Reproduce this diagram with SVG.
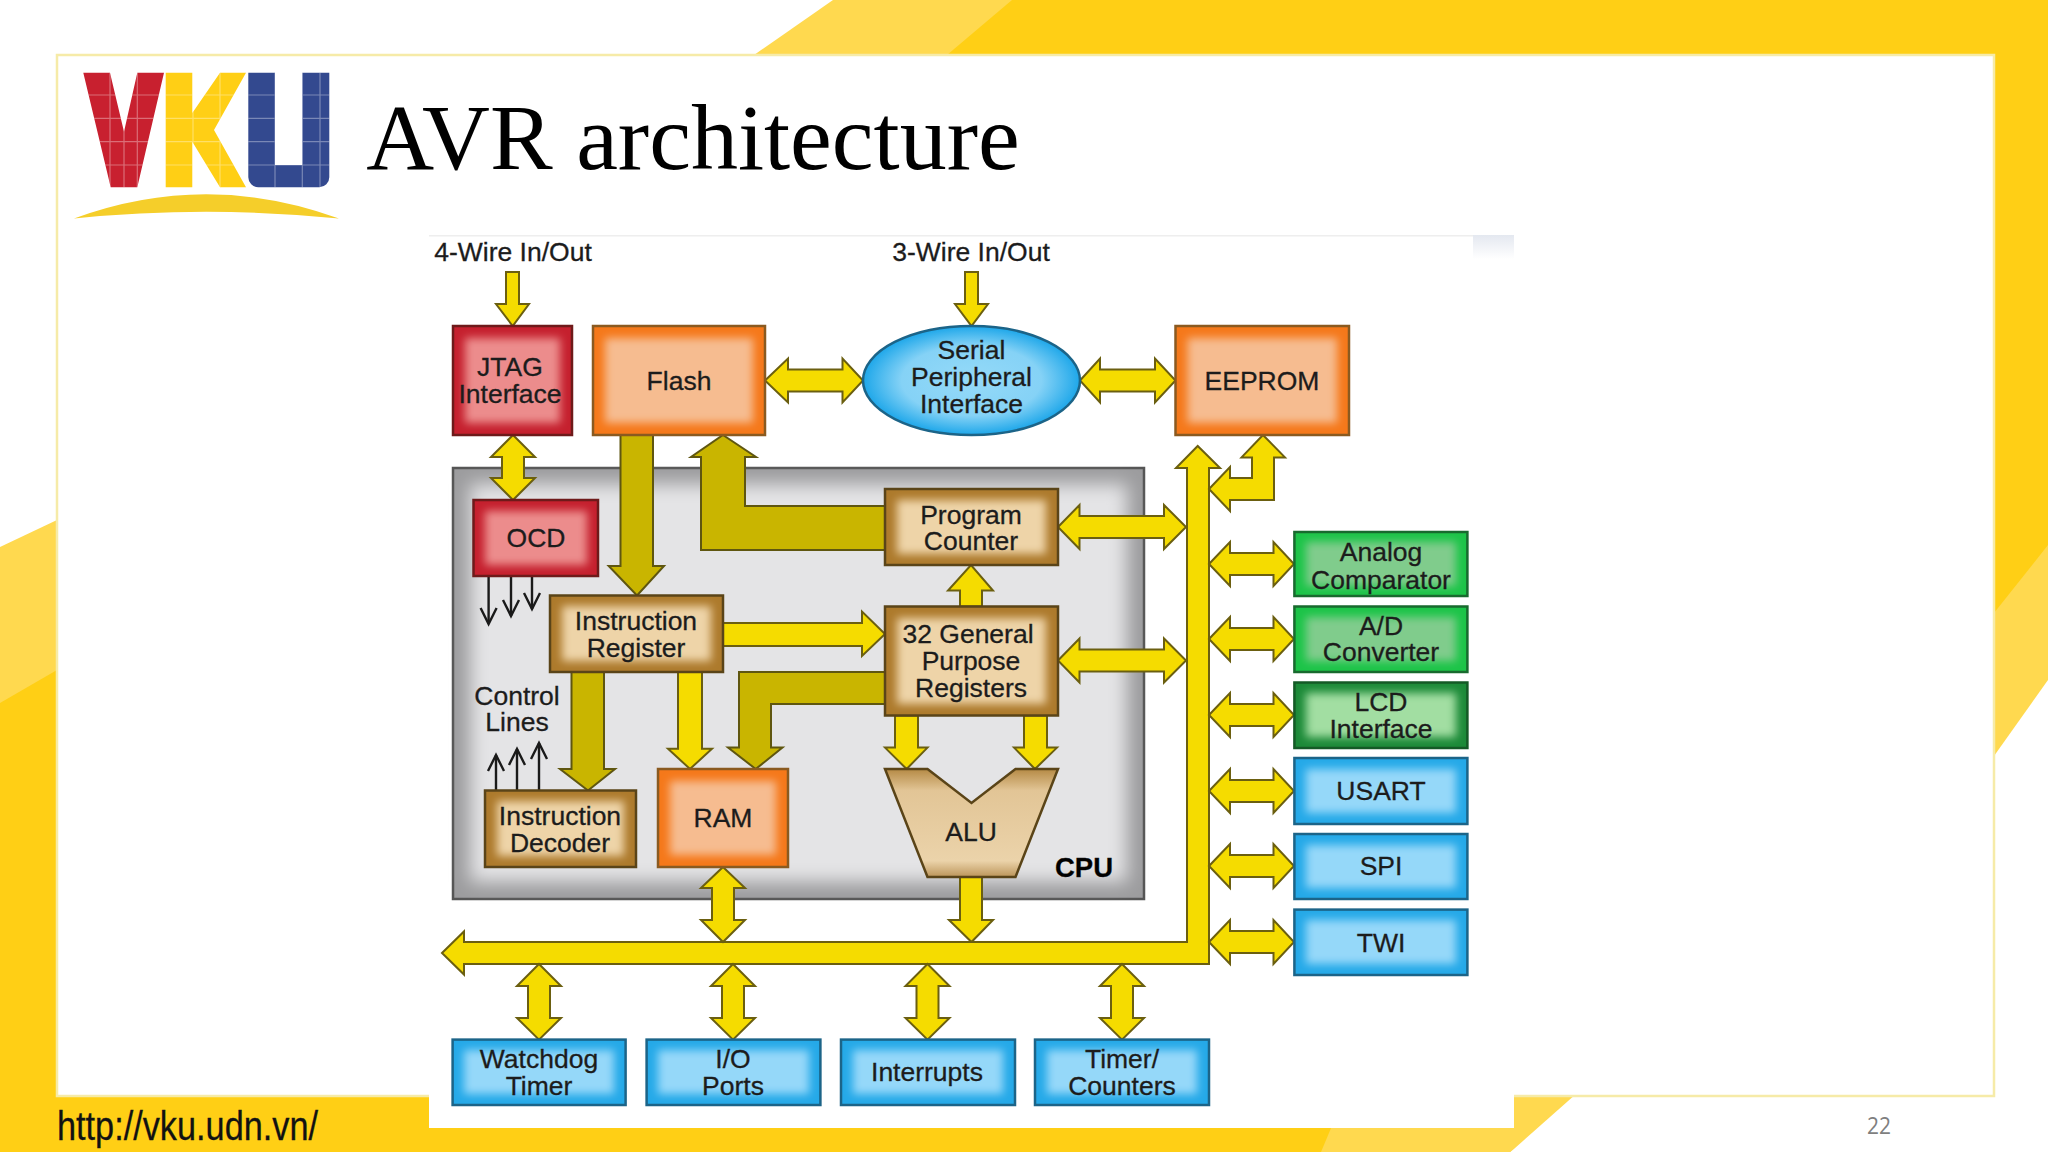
<svg xmlns="http://www.w3.org/2000/svg" xmlns:xlink="http://www.w3.org/1999/xlink" width="2048" height="1152" viewBox="0 0 2048 1152">
<style>
text{font-family:"Liberation Sans",Arial,sans-serif;font-size:26.5px;fill:#1c1c1c;stroke:#1c1c1c;stroke-width:.3;text-anchor:middle}
.y{fill:#F5DC00;stroke:#6b5f10;stroke-width:2;stroke-linejoin:miter}
.d{fill:#C9B500;stroke:#5f5610;stroke-width:2}
.in{filter:url(#b)}
.ctl{fill:none;stroke:#1a1a1a;stroke-width:2.4;marker-end:url(#open)}
.red{fill:#C5202E;stroke:#6e1a1a;stroke-width:2.5}.redi{fill:#EC8C8C}
.org{fill:#F5781A;stroke:#8a5a20;stroke-width:2.5}.orgi{fill:#F6BC90}
.tan{fill:#AD7A2C;stroke:#5a4418;stroke-width:2.5}.tani{fill:#EED4A8}
.blu{fill:#25A9E8;stroke:#1c6488;stroke-width:2.5}.blui{fill:#95D8F9}
.grn{fill:#1CC448;stroke:#186a2e;stroke-width:2.5}.grni{fill:#80CC8C}
.dgr{fill:#1C8A38;stroke:#145a26;stroke-width:2.5}.dgri{fill:#A2DEA2}
</style>
<defs>
<filter id="b" x="-25%" y="-25%" width="150%" height="150%"><feGaussianBlur stdDeviation="4.5"/></filter>
<filter id="b2" x="-15%" y="-15%" width="130%" height="130%"><feGaussianBlur stdDeviation="9"/></filter>
<radialGradient id="sp" cx="50%" cy="50%" r="52%"><stop offset="0" stop-color="#95DAF8"/><stop offset=".62" stop-color="#85D2F6"/><stop offset="1" stop-color="#12A2E8"/></radialGradient>
<linearGradient id="al" x1="0" y1="0" x2="0" y2="1"><stop offset="0" stop-color="#B58A45"/><stop offset=".2" stop-color="#E2C596"/><stop offset=".85" stop-color="#EBD3AA"/><stop offset="1" stop-color="#BC955A"/></linearGradient>
<linearGradient id="patch" x1="0" y1="0" x2="0" y2="1"><stop offset="0" stop-color="#E4E8F0"/><stop offset="1" stop-color="#FFFFFF"/></linearGradient>
<marker id="open" markerUnits="userSpaceOnUse" markerWidth="20" markerHeight="20" refX="9" refY="1.5" orient="auto-start-reverse" viewBox="-1 -10 20 20" overflow="visible"><path d="M-7 -8 L9 0 L-7 8" fill="none" stroke="#1a1a1a" stroke-width="2.4" transform="translate(0 1.5)"/></marker>
<polygon id="dv" class="y" points="0,0 22,22 11,22 11,54 22,54 0,75.6 -22,54 -11,54 -11,22 -22,22"/>
<polygon id="dh" class="y" points="0,0 21,-22 21,-11 64.5,-11 64.5,-22 85,0 64.5,22 64.5,11 21,11 21,22"/>
<polygon id="dh2" class="y" points="0,0 21.5,-22 21.5,-11 106,-11 106,-22 128,0 106,22 106,11 21.5,11 21.5,22"/>
<clipPath id="lg"><polygon points="83.3,72.7 110,72.7 124,131.7 137.3,72.7 164,72.7 137.3,187.3 110.7,187.3"/><polygon points="165.7,72.7 192.3,72.7 192.3,113 220,72.7 246,72.7 214,130 246,187.3 220,187.3 192.3,141.7 192.3,187.3 165.7,187.3"/><path d="M248.3 72.7H275V165H302.3V72.7H329.3V177.3a10 10 0 0 1-10 10H258.3a10 10 0 0 1-10-10Z"/></clipPath>
</defs>

<g id="background">
<rect width="2048" height="1152" fill="#FFFFFF"/>
<polygon points="754,55 833,0 2048,0 2048,100 754,100" fill="#FFD94F"/>
<polygon points="947,55 1012,0 2048,0 2048,100 947,100" fill="#FFCF15"/>
<polygon points="1994,40 2048,40 2048,717 1994,756" fill="#FFCF15"/>
<polygon points="1994,613 2048,545 2048,717 1994,790" fill="#FFD94F"/>
<polygon points="1994,756 2048,680 2048,800 1994,800" fill="#FFFFFF"/>
<polygon points="0,547 57,520 57,1100 0,1100" fill="#FFD94F"/>
<polygon points="0,703 57,670 57,1100 0,1100" fill="#FFCF15"/>
<rect x="0" y="1090" width="1400" height="62" fill="#FFCF15"/>
<polygon points="1347,1090 1600,1090 1510.6,1152 1321,1152" fill="#FFD94F"/>
<rect x="1573" y="1097" width="475" height="55" fill="#FFFFFF"/>
<polygon points="1572.6,1097 1700,1097 1700,1152 1510.6,1152" fill="#FFFFFF"/>
<rect x="57" y="55" width="1937" height="1041" fill="#FFFFFF" stroke="#F6EBA8" stroke-width="2.5"/>
<rect x="429" y="235" width="1085" height="893" fill="#FFFFFF"/>
<rect x="429" y="235" width="1085" height="1.5" fill="#EEEEEE"/>
<rect x="1473" y="235" width="41" height="24" fill="url(#patch)"/>
</g>

<g id="logo">
<polygon fill="#C8202F" points="83.3,72.7 110,72.7 124,131.7 137.3,72.7 164,72.7 137.3,187.3 110.7,187.3"/>
<polygon fill="#FFCF15" points="165.7,72.7 192.3,72.7 192.3,113 220,72.7 246,72.7 214,130 246,187.3 220,187.3 192.3,141.7 192.3,187.3 165.7,187.3"/>
<path fill="#33498F" d="M248.3 72.7H275V165H302.3V72.7H329.3V177.3a10 10 0 0 1-10 10H258.3a10 10 0 0 1-10-10Z"/>
<g clip-path="url(#lg)" stroke="#FFFFFF" stroke-opacity=".35" stroke-width="1.2">
<path d="M80 95H332M80 118.3H332M80 141.7H332M80 165H332M110 72V188M124 72V188M137.3 72V188M193 72V188M220 72V188M275 72V188M302.3 72V188M320 72V188"/>
</g>
<path fill="#F5CE2A" d="M74 218.5Q206 170 339 218.5Q206 205 74 218.5Z"/>
</g>

<text id="title" x="693" y="169" style="font-family:'Liberation Serif','Times New Roman',serif;font-size:94px;fill:#000;stroke:none">AVR architecture</text>
<text id="url" x="57" y="1140" textLength="261" lengthAdjust="spacingAndGlyphs" style="font-size:40px;text-anchor:start;fill:#111">http://vku.udn.vn/</text>
<text id="page" x="1879" y="1134" textLength="24" lengthAdjust="spacingAndGlyphs" style="font-family:'Open Sans',sans-serif;font-size:24px;fill:#7f7f7f;stroke:none">22</text>

<g id="cpu">
<rect x="453" y="468" width="691" height="431" fill="#9C9C9E" stroke="#555555" stroke-width="2.5"/>
<rect x="470" y="484" width="657" height="398" fill="#E4E4E6" filter="url(#b2)"/>
<text x="1084" y="876.5" style="font-weight:bold;fill:#000;font-size:27.5px">CPU</text>
</g>

<text id="label-4wire" x="513" y="261">4-Wire In/Out</text>
<text id="label-3wire" x="971" y="261">3-Wire In/Out</text>
<text id="label-control-1" x="517" y="704.6">Control</text>
<text id="label-control-2" x="517" y="731">Lines</text>

<g id="connectors">
<polygon class="d" points="620.5,430 653,430 653,566 664,566 637,595.5 608.7,566 620.5,566"/>
<polygon class="d" points="723,435 756,457 745,457 745,506 885,506 885,550 701,550 701,457 691,457"/>
<polygon class="d" points="571.5,672 604,672 604,769 615,769 588,790.5 560,769 571.5,769"/>
<polygon class="d" points="885,672 885,704 771,704 771,747.6 782.5,747.6 755.7,769 728,747.6 739,747.6 739,672"/>
<polygon class="y" points="506,272 519,272 519,304 529,304 512.7,326 496,304 506,304"/>
<polygon class="y" points="965,272 978,272 978,304 988,304 971.5,326 955,304 965,304"/>
<polygon class="y" points="765,380.5 788,358.5 788,369.5 842.5,369.5 842.5,358.5 863,380.5 842.5,402.5 842.5,391.5 788,391.5 788,402.5"/>
<polygon class="y" points="1080,380.5 1100,358.5 1100,369.5 1155,369.5 1155,358.5 1175.5,380.5 1155,402.5 1155,391.5 1100,391.5 1100,402.5"/>
<polygon class="y" points="513,435 535,457 524,457 524,478 535,478 513,500 491,478 502,478 502,457 491,457"/>
<polygon class="y" points="960,606.5 960,590.5 948,590.5 971,565 993,590.5 982,590.5 982,606.5"/>
<polygon class="y" points="723,623 862,623 862,611.6 885,634 862,656 862,646 723,646"/>
<polygon class="y" points="678,672 702,672 702,748.7 712,748.7 690,769 668,748.7 678,748.7"/>
<polygon class="y" points="895,715.6 918,715.6 918,747.6 927.5,747.6 906.6,769 885,747.6 895,747.6"/>
<polygon class="y" points="1024,715.6 1047,715.6 1047,747.6 1057,747.6 1035,769 1014,747.6 1024,747.6"/>
<polygon class="y" points="960,877 982,877 982,920 993,920 971.5,942 949,920 960,920"/>
<polygon class="y" points="442,953 464,931.5 464,942 1187,942 1187,468 1176,468 1197.7,446 1220,468 1209,468 1209,964 464,964 464,974.5"/>
<polygon class="y" points="723,867 745,888 734,888 734,920 745,920 723,942 701,920 712,920 712,888 701,888"/>
<polygon class="y" points="1263,435 1285,457.4 1274,457.4 1274,500 1230,500 1230,511 1209,489 1230,467 1230,478 1252,478 1252,457.4 1241.5,457.4"/>
<use href="#dv" xlink:href="#dv" x="539" y="964"/>
<use href="#dv" xlink:href="#dv" x="733" y="964"/>
<use href="#dv" xlink:href="#dv" x="927.5" y="964"/>
<use href="#dv" xlink:href="#dv" x="1122" y="964"/>
<use href="#dh" xlink:href="#dh" x="1209" y="564"/>
<use href="#dh" xlink:href="#dh" x="1209" y="639"/>
<use href="#dh" xlink:href="#dh" x="1209" y="715"/>
<use href="#dh" xlink:href="#dh" x="1209" y="791"/>
<use href="#dh" xlink:href="#dh" x="1209" y="866"/>
<use href="#dh" xlink:href="#dh" x="1209" y="942"/>
<use href="#dh2" xlink:href="#dh2" x="1058" y="527"/>
<use href="#dh2" xlink:href="#dh2" x="1058" y="660.5"/>
<path class="ctl" d="M488.6 577V624"/>
<path class="ctl" d="M511 577V616"/>
<path class="ctl" d="M532 577V609"/>
<path class="ctl" d="M496 790V755"/>
<path class="ctl" d="M517 790V749"/>
<path class="ctl" d="M539 790V743"/>
</g>

<g id="node-jtag"><rect class="red" x="453" y="326" width="119" height="109"/><rect class="redi in" x="465" y="338" width="95" height="85"/><text x="510" y="375.5">JTAG</text><text x="510" y="403.4">Interface</text></g>
<g id="node-flash"><rect class="org" x="593" y="326" width="172" height="109"/><rect class="orgi in" x="605" y="338" width="148" height="85"/><text x="679" y="390">Flash</text></g>
<g id="node-spi-bus"><ellipse cx="971.5" cy="380.5" rx="108.5" ry="54.5" fill="url(#sp)" stroke="#1c6488" stroke-width="2.5"/><text x="971.5" y="358.5">Serial</text><text x="971.5" y="385.5">Peripheral</text><text x="971.5" y="412.5">Interface</text></g>
<g id="node-eeprom"><rect class="org" x="1175.5" y="326" width="173.5" height="109"/><rect class="orgi in" x="1187.5" y="338" width="149.5" height="85"/><text x="1262" y="390">EEPROM</text></g>
<g id="node-ocd"><rect class="red" x="473.5" y="500" width="124.5" height="76"/><rect class="redi in" x="485" y="511" width="102" height="54"/><text x="536" y="547">OCD</text></g>
<g id="node-pc"><rect class="tan" x="885" y="489" width="173" height="76"/><rect class="tani in" x="897" y="500" width="149" height="54"/><text x="971" y="523.5">Program</text><text x="971" y="550">Counter</text></g>
<g id="node-ir"><rect class="tan" x="550" y="595.5" width="173" height="76.5"/><rect class="tani in" x="562" y="606" width="149" height="55"/><text x="636" y="630">Instruction</text><text x="636" y="657">Register</text></g>
<g id="node-gpr"><rect class="tan" x="885" y="606.5" width="173" height="109"/><rect class="tani in" x="897" y="618" width="149" height="86"/><text x="968" y="643">32 General</text><text x="971" y="670">Purpose</text><text x="971" y="696.5">Registers</text></g>
<g id="node-decoder"><rect class="tan" x="485" y="790.5" width="151" height="76.5"/><rect class="tani in" x="497" y="801" width="127" height="55"/><text x="560" y="825">Instruction</text><text x="560" y="851.5">Decoder</text></g>
<g id="node-ram"><rect class="org" x="658" y="769" width="130" height="98"/><rect class="orgi in" x="670" y="781" width="106" height="74"/><text x="723" y="827">RAM</text></g>
<g id="node-alu"><polygon points="885,769 927.5,769 971.5,803 1015.5,769 1058,769 1015.5,877 927.5,877" fill="url(#al)" stroke="#5a4418" stroke-width="2.5"/><text x="971" y="840.5">ALU</text></g>
<g id="node-watchdog"><rect class="blu" x="452.6" y="1039.6" width="173" height="65.4"/><rect class="blui in" x="464" y="1050" width="150" height="44"/><text x="539" y="1068">Watchdog</text><text x="539" y="1095">Timer</text></g>
<g id="node-io"><rect class="blu" x="646.6" y="1039.6" width="173.8" height="65.4"/><rect class="blui in" x="658" y="1050" width="151" height="44"/><text x="733" y="1068">I/O</text><text x="733" y="1095">Ports</text></g>
<g id="node-interrupts"><rect class="blu" x="841" y="1039.6" width="174" height="65.4"/><rect class="blui in" x="853" y="1050" width="150" height="44"/><text x="927" y="1081">Interrupts</text></g>
<g id="node-timer"><rect class="blu" x="1035" y="1039.6" width="174" height="65.4"/><rect class="blui in" x="1047" y="1050" width="150" height="44"/><text x="1122" y="1068">Timer/</text><text x="1122" y="1095">Counters</text></g>
<g id="node-analog"><rect class="grn" x="1294.4" y="532" width="173" height="64"/><rect class="grni in" x="1306" y="542" width="150" height="44"/><text x="1381" y="561.4">Analog</text><text x="1381" y="588.5">Comparator</text></g>
<g id="node-ad"><rect class="grn" x="1294.4" y="606.5" width="173" height="65.5"/><rect class="grni in" x="1306" y="617" width="150" height="44"/><text x="1381" y="635">A/D</text><text x="1381" y="661">Converter</text></g>
<g id="node-lcd"><rect class="dgr" x="1294.4" y="682.5" width="173" height="65.5"/><rect class="dgri in" x="1306" y="693" width="150" height="44"/><text x="1381" y="711">LCD</text><text x="1381" y="737.6">Interface</text></g>
<g id="node-usart"><rect class="blu" x="1294.4" y="758" width="173" height="66"/><rect class="blui in" x="1306" y="769" width="150" height="44"/><text x="1381" y="800">USART</text></g>
<g id="node-spi"><rect class="blu" x="1294.4" y="834" width="173" height="65"/><rect class="blui in" x="1306" y="845" width="150" height="43"/><text x="1381" y="875.4">SPI</text></g>
<g id="node-twi"><rect class="blu" x="1294.4" y="909.6" width="173" height="65.4"/><rect class="blui in" x="1306" y="920" width="150" height="44"/><text x="1381" y="951.5">TWI</text></g>
</svg>
